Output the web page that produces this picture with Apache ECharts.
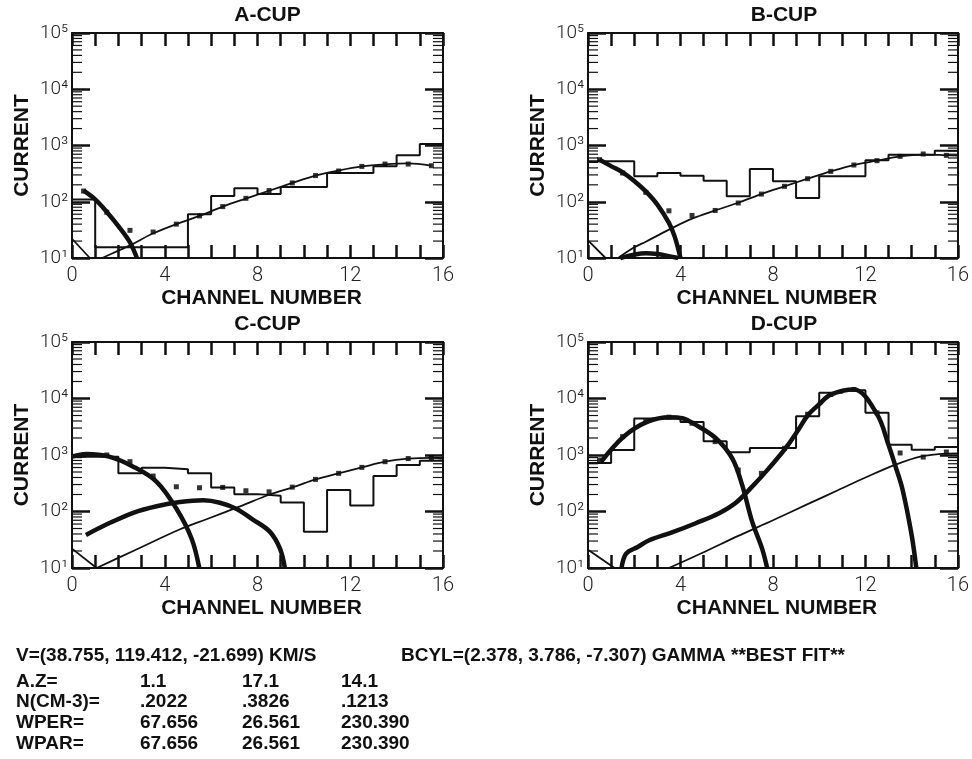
<!DOCTYPE html>
<html><head><meta charset="utf-8">
<script src="https://cdn.jsdelivr.net/npm/echarts@6/dist/echarts.min.js"></script>
<style>html,body{margin:0;padding:0;background:#fff}#c{width:972px;height:759px}</style>
</head><body><div id="c"></div>
<script>
// ---- data ----
const channelEdges = [0,1,2,3,4,5,6,7,8,9,10,11,12,13,14,15,16];
const channelCenters = [0.5,1.5,2.5,3.5,4.5,5.5,6.5,7.5,8.5,9.5,10.5,11.5,12.5,13.5,14.5,15.5];
const decadeLabels = ['10\u00B9','10\u00B2','10\u00B3','10\u2074','10\u2075'];

// A-CUP
const histA = [110,15.5,15.5,15.5,15.5,60,126,174,137,183,183,324,324,426,668,1064];
const dotsA = [155,65,31,29,40,56,82,115,158,216,292,352,425,468,468,437];
const thickA1 = [[0.5,157],[1.0,110],[1.5,66],[2.0,37],[2.5,19],[2.8,10]];
const thinA1 = [[1.3,10],[2.0,13.5],[2.57,17.3],[3.5,27.5],[4.5,40],[5.5,56],[6.5,82],[7.5,114],[8.5,157],[9.5,216],[10.5,292],[11.5,360],[12.5,425],[13.5,462],[14.5,480],[15.5,440]];
const edgeA = [[0,22],[0.77,10]];

// B-CUP
const histB = [524,524,283,324,291,237,125,382,231,117,283,283,545,687,687,809];
const dotsB = [560,324,147,69,57,70,95,137,188,257,347,450,537,641,706,668];
const thickB1 = [[0.5,560],[1.0,430],[1.5,333],[2.0,234],[2.5,153],[3.0,89],[3.5,42],[3.75,24],[4.0,10]];
const thickB2 = [[1.4,10],[2.0,11.5],[2.5,12.2],[3.0,11.8],[3.5,10.8],[3.9,10]];
const thinB1 = [[1.3,10],[2.0,15.5],[2.5,19.5],[3.0,25],[3.5,32],[4.5,50],[5.5,70],[6.5,96],[7.5,137],[8.5,188],[9.5,257],[10.5,347],[11.5,450],[12.5,537],[13.5,641],[14.5,690],[15.5,672],[16,660]];
const edgeB = [[0,20.5],[0.76,10]];

// C-CUP
const histC = [933,933,473,596,557,473,267,203,190,145,44,240,128,425,665,790];
const dotsC = [1000,1000,762,424,274,263,267,233,223,270,370,473,604,762,865,890];
const thickC1 = [[0,933],[0.63,1042],[1.6,933],[2.64,621],[3.65,336],[4.5,113],[5.16,33],[5.49,10]];
const thickC2 = [[0.6,38.5],[1.64,63],[2.64,95],[3.65,124],[4.66,147],[5.66,158],[6.38,143],[7.1,111],[7.8,72],[8.53,44],[8.97,22],[9.18,10]];
const thinC1 = [[1.06,10],[2.64,20],[4.66,48.5],[5.8,73],[7.24,123],[8.53,200],[9.57,272],[10.5,370],[11.5,473],[12.5,604],[13.5,762],[14.5,861],[15.5,890],[16,860]];
const edgeC = [[0,22],[1.06,10]];

// D-CUP
const histD = [722,1230,4416,4416,3855,1746,1114,1330,1330,4850,12600,14000,5570,1524,1240,1387];
const dotsD = [815,2113,3900,4670,3650,1726,542,473,1313,5272,11776,14454,5572,1086,920,1130];
const thickD1 = [[0.57,760],[1.54,2110],[2.58,3890],[3.54,4670],[4.09,4470],[4.55,3630],[5.52,2000],[6.24,870],[6.67,293],[7.1,66],[7.53,22],[7.75,10]];
const thickD2 = [[1.45,10],[1.65,18],[2.15,23.6],[2.65,31],[3.66,43],[4.66,62],[5.67,93],[6.38,141],[7.1,275],[7.82,580],[8.54,1310],[9.1,2800],[9.5,5000],[10.0,7900],[10.5,11700],[11.5,14400],[12.5,5300],[13.0,1500],[13.3,630],[13.6,250],[14.0,38],[14.2,10]];
const thinD1 = [[3.5,10],[5,19],[6.5,37],[8,70],[9.5,135],[10.83,240],[12,400],[13.28,670],[14.42,946],[15.5,1060],[16,1070]];
const edgeD = [[0,21],[1.15,10]];

const titles = ['A-CUP','B-CUP','C-CUP','D-CUP'];
const infoRows = [
  ['V=(38.755, 119.412, -21.699) KM/S'],
  ['A.Z=', '1.1', '17.1', '14.1'],
  ['N(CM-3)=', '.2022', '.3826', '.1213'],
  ['WPER=', '67.656', '26.561', '230.390'],
  ['WPAR=', '67.656', '26.561', '230.390']
];
const bcylText = 'BCYL=(2.378, 3.786, -7.307) GAMMA **BEST FIT**';

// ---- layout ----
const panels = [
  {hist: histA, dots: dotsA, thick: [thickA1], thin: [thinA1, edgeA]},
  {hist: histB, dots: dotsB, thick: [thickB1, thickB2], thin: [thinB1, edgeB]},
  {hist: histC, dots: dotsC, thick: [thickC1, thickC2], thin: [thinC1, edgeC]},
  {hist: histD, dots: dotsD, thick: [thickD1, thickD2], thin: [thinD1, edgeD]}
];
const grids = [
  {left: 72, top: 33, width: 371, height: 225},
  {left: 588, top: 33, width: 372, height: 225},
  {left: 72, top: 342, width: 371, height: 226},
  {left: 588, top: 342, width: 372, height: 226}
];
const INK = '#111';
const numFont = 'Roboto, "Liberation Sans", sans-serif';
const boldFont = '"Liberation Sans", Arial, sans-serif';

const minorVals = [];
[10,100,1000,10000].forEach(d => { for (let k = 2; k <= 9; k++) minorVals.push(k * d); });

const xAxes = [], yAxes = [], series = [], titleOpts = [];
grids.forEach((g, p) => {
  xAxes.push({
    type: 'value', gridIndex: p, min: 0, max: 16, interval: 1, position: 'bottom',
    axisLine: {show: true, onZero: false, lineStyle: {color: INK, width: 2}},
    axisTick: {show: true, inside: true, length: 13, lineStyle: {color: INK, width: 2.5}},
    splitLine: {show: false},
    name: 'CHANNEL NUMBER', nameLocation: 'middle', nameGap: 30,
    nameTextStyle: {fontFamily: boldFont, fontWeight: 'bold', fontSize: 21, color: INK, padding: [0,0,0,8]},
    axisLabel: {show: true, margin: 8, fontFamily: numFont, fontWeight: 300, fontSize: 20, color: '#222',
      formatter: v => (v % 4 === 0 ? String(v) : '')}
  });
  yAxes.push({
    type: 'log', logBase: 10, gridIndex: p, min: 10, max: 100000, position: 'left',
    axisLine: {show: true, onZero: false, lineStyle: {color: INK, width: 2}},
    axisTick: {show: true, inside: true, length: 18, lineStyle: {color: INK, width: 2.5}},
    splitLine: {show: false}, minorTick: {show: false},
    name: 'CURRENT', nameLocation: 'middle', nameGap: 39,
    nameTextStyle: {fontFamily: boldFont, fontWeight: 'bold', fontSize: 21, color: INK},
    axisLabel: {show: true, margin: 4, fontFamily: numFont, fontWeight: 300, fontSize: 19, color: '#222',
      padding: [0,0,8,0],
      formatter: v => decadeLabels[Math.round(Math.log10(v)) - 1]}
  });
  titleOpts.push({
    text: titles[p], left: g.left + g.width / 2 + 5, textAlign: 'center', top: g.top - 33,
    textStyle: {fontFamily: boldFont, fontWeight: 'bold', fontSize: 21, color: INK}
  });
});
// mirrored axes (top / right)
grids.forEach((g, p) => {
  xAxes.push({
    type: 'value', gridIndex: p, min: 0, max: 16, interval: 1, position: 'top',
    axisLine: {show: true, onZero: false, lineStyle: {color: INK, width: 2}},
    axisTick: {show: true, inside: true, length: 13, lineStyle: {color: INK, width: 2.5}},
    axisLabel: {show: false}, splitLine: {show: false}
  });
  yAxes.push({
    type: 'log', logBase: 10, gridIndex: p, min: 10, max: 100000, position: 'right',
    axisLine: {show: true, onZero: false, lineStyle: {color: INK, width: 2}},
    axisTick: {show: true, inside: true, length: 18, lineStyle: {color: INK, width: 2.5}},
    axisLabel: {show: false}, splitLine: {show: false}
  });
});

panels.forEach((pn, p) => {
  // minor log ticks on both sides
  series.push({
    type: 'custom', xAxisIndex: p, yAxisIndex: p, silent: true, clip: false, z: 1,
    data: minorVals.map(v => [0, v]),
    renderItem: (params, api) => {
      const y = api.coord([0, api.value(1)])[1];
      const cs = params.coordSys;
      return {type: 'group', children: [
        {type: 'line', shape: {x1: cs.x, y1: y, x2: cs.x + 10, y2: y}, style: {stroke: INK, lineWidth: 1.2}},
        {type: 'line', shape: {x1: cs.x + cs.width - 10, y1: y, x2: cs.x + cs.width, y2: y}, style: {stroke: INK, lineWidth: 1.2}}
      ]};
    }
  });
  // histogram
  series.push({
    type: 'line', xAxisIndex: p, yAxisIndex: p, step: 'end', showSymbol: false, silent: true,
    data: channelEdges.map((e, i) => [e, pn.hist[Math.min(i, 15)]]),
    lineStyle: {color: INK, width: 2}, z: 3
  });
  // data points
  series.push({
    type: 'scatter', xAxisIndex: p, yAxisIndex: p, symbol: 'rect', symbolSize: 5, silent: true,
    data: channelCenters.map((c, i) => [c, pn.dots[i]]),
    itemStyle: {color: '#000'}, z: 4
  });
  pn.thin.forEach(d => series.push({
    type: 'line', xAxisIndex: p, yAxisIndex: p, smooth: 0.35, showSymbol: false, silent: true,
    data: d, lineStyle: {color: INK, width: 1.8}, z: 5
  }));
  pn.thick.forEach(d => series.push({
    type: 'line', xAxisIndex: p, yAxisIndex: p, smooth: 0.35, showSymbol: false, silent: true,
    data: d, lineStyle: {color: INK, width: 4.5}, z: 6
  }));
});

// info text block
const rowY = [655, 681, 701, 722, 743];
const colX = [16, 140, 242, 341];
const graphics = [];
infoRows.forEach((row, r) => {
  row.forEach((t, c) => graphics.push({
    type: 'text', left: colX[c], top: rowY[r] - 9,
    style: {text: t, font: 'bold 19px "Liberation Sans", Arial, sans-serif', fill: INK}
  }));
});
graphics.push({type: 'text', left: 401, top: rowY[0] - 9,
  style: {text: bcylText, font: 'bold 19px "Liberation Sans", Arial, sans-serif', fill: INK}});

const chart = echarts.init(document.getElementById('c'), null, {renderer: 'canvas'});
chart.setOption({
  backgroundColor: '#fff',
  animation: false,
  title: titleOpts,
  grid: grids,
  xAxis: xAxes,
  yAxis: yAxes,
  series: series,
  graphic: graphics
});
</script>
</body></html>
